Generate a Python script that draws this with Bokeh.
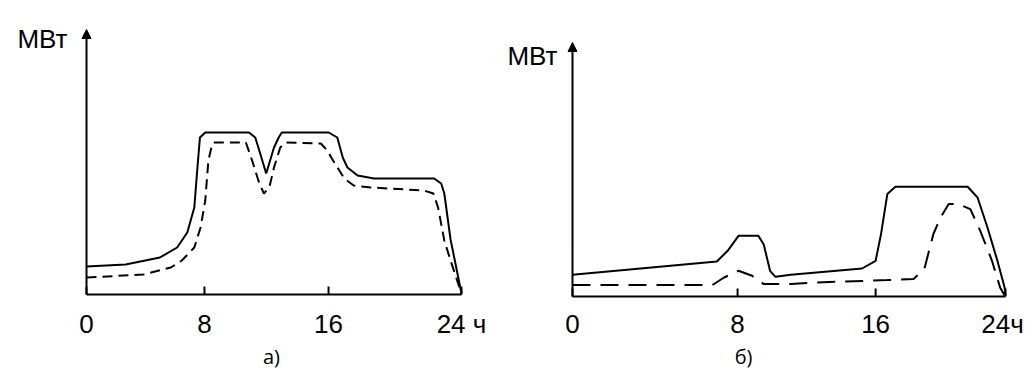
from bokeh.plotting import figure
from bokeh.layouts import row
from bokeh.models import Range1d, Label, Arrow, NormalHead
from bokeh.core.properties import value
from bokeh.embed import file_html
from bokeh.resources import INLINE

# ---------------- data: panel a) ----------------
A_SOLID_X = [0, 2.5, 4.7, 5.8, 6.45, 6.9, 7.1, 7.26, 7.6, 10.4, 10.8, 11.0, 11.5,
             12.0, 12.3, 12.5, 15.5, 16.05, 16.4, 16.7, 17.35, 18.4, 22.25, 22.7,
             22.9, 23.3, 24.0]
A_SOLID_Y = [28, 30, 37, 47, 62, 87, 127, 157, 162, 162, 157, 147, 121,
             147, 157, 162, 162, 157, 137, 127, 119, 116, 116, 111,
             101, 55, 1]
A_DASH_X = [0, 3.65, 5.4, 6.1, 6.9, 7.3, 7.6, 7.8, 8.05, 8.2, 10.2, 10.6, 11.0,
            11.35, 11.7, 12.0, 12.4, 12.75, 15.0, 15.4, 15.9, 16.5, 17.1, 18.2,
            21.6, 22.2, 22.5, 22.9, 23.3, 24.0]
A_DASH_Y = [17, 20, 27, 34, 47, 67, 94, 134, 151, 152, 152, 134, 114,
            101, 107, 127, 147, 152, 151, 144, 131, 116, 109, 107,
            104, 101, 87, 54, 34, 1]
A_TICKS = [0, 7.55, 15.49, 24]
A_TICK_LABELS = ["0", "8", "16", "24 ч"]
A_Y_TOP = 265

# ---------------- data: panel б) ----------------
B_SOLID_X = [0, 8.0, 8.6, 9.2, 10.3, 10.6, 10.95, 11.25, 12.1, 16.05, 16.8, 17.1,
             17.45, 17.9, 21.9, 22.45, 23.0, 23.55, 23.95, 24.0]
B_SOLID_Y = [21.7, 35, 45.7, 60.7, 60.7, 52, 25.7, 19.7, 21.7, 28, 35.7, 62.4,
             102.4, 109.7, 109.7, 99, 69, 35.7, 9, 1]
B_DASH_X = [0, 7.75, 8.4, 9.2, 9.95, 10.6, 12.1, 13.5, 17.45, 18.9, 19.5, 20.0,
            20.4, 20.85, 21.4, 22.05, 22.6, 23.25, 23.7, 23.95]
B_DASH_Y = [11.4, 11.4, 19, 25.7, 20.7, 12.4, 12.4, 14, 16.4, 17.4, 27.4, 62.4,
            79, 92.4, 92.4, 87.4, 65.7, 35.7, 9, 1]
B_TICKS = [0, 9.15, 16.8, 24]
B_TICK_LABELS = ["0", "8", "16", "24ч"]
B_Y_TOP = 254

Y_LABEL = "МВт"
CAPTIONS = ["а)", "б)"]


def make_panel(width, height, x_range, y_range, y_top, ticks, tick_labels,
               label_dx, sx, sy, dx, dy, dash, label_y, ylab_xy, cap_xy, caption):
    p = figure(width=width, height=height, output_backend="svg",
               toolbar_location=None, x_range=Range1d(*x_range),
               y_range=Range1d(*y_range), min_border=0)
    p.axis.visible = False
    p.outline_line_color = None
    p.grid.visible = False
    p.background_fill_color = "white"
    p.border_fill_color = "white"

    # axes drawn by hand (axis at data zero, arrow on the power axis)
    p.segment(x0=[0], y0=[0], x1=[24], y1=[0], line_color="black", line_width=2)
    p.segment(x0=ticks, y0=[0] * len(ticks), x1=ticks, y1=[8] * len(ticks),
              line_color="black", line_width=2)
    p.add_layout(Arrow(end=NormalHead(size=9, fill_color="black",
                                      line_color="black", line_width=1),
                       x_start=0, y_start=0, x_end=0, y_end=y_top,
                       line_width=2, line_color="black"))
    p.text(x=ticks, y=[label_y] * len(ticks), text=tick_labels,
           x_offset=label_dx,
           text_align="center", text_baseline="alphabetic",
           text_font=value("Liberation Sans"), text_font_size="26px",
           text_color="black")

    p.line(sx, sy, line_color="black", line_width=2)
    p.line(dx, dy, line_color="black", line_width=2, line_dash=dash)

    p.add_layout(Label(x=ylab_xy[0], y=ylab_xy[1], text=Y_LABEL,
                       text_align="center", text_baseline="alphabetic",
                       text_font="Liberation Sans", text_font_size="26px",
                       text_color="black"))
    p.add_layout(Label(x=cap_xy[0], y=cap_xy[1], text=caption,
                       text_align="center", text_baseline="alphabetic",
                       text_font="Open Sans", text_font_size="20px",
                       text_color="black"))
    return p


pa = make_panel(496, 374, (-5.504, 26.24), (-80, 294), A_Y_TOP,
                A_TICKS, A_TICK_LABELS, [0, 0, 0, 0],
                A_SOLID_X, A_SOLID_Y, A_DASH_X, A_DASH_Y, "10 6", -29,
                (-2.82, 256), (11.84, -62), CAPTIONS[0])
pb = make_panel(537, 374, (-4.212, 25.551), (-78, 296), B_Y_TOP,
                B_TICKS, B_TICK_LABELS, [0, 0, 0, -3],
                B_SOLID_X, B_SOLID_Y, B_DASH_X, B_DASH_Y, "18 10", -27,
                (-2.22, 241), (9.48, -60), CAPTIONS[1])

layout = row(pa, pb, spacing=0)
open("out.html", "w").write(file_html(layout, INLINE))
